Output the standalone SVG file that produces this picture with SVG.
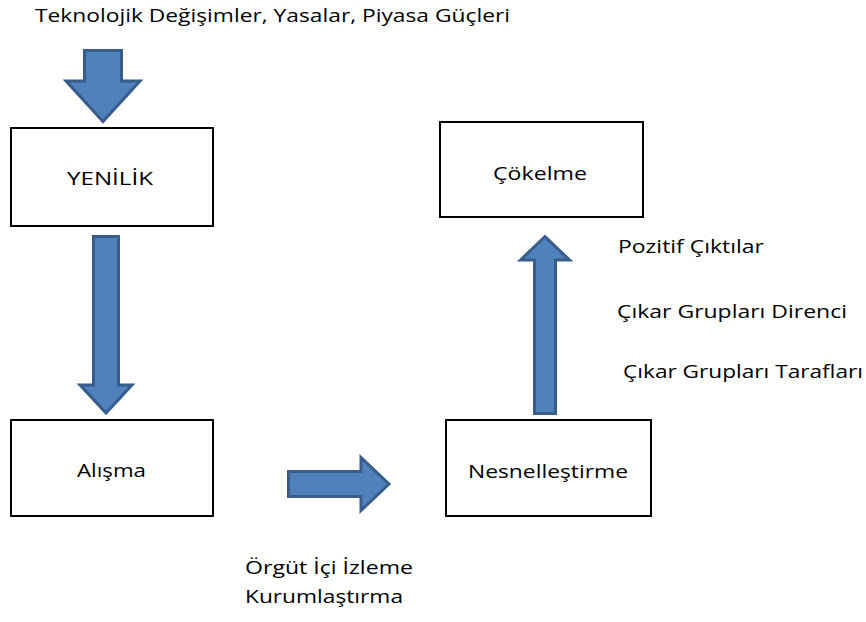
<svg xmlns="http://www.w3.org/2000/svg" width="866" height="622" viewBox="0 0 866 622">
<style>
.box{fill:#fff;stroke:#000;stroke-width:2}
.arr{fill:#4F81BD;stroke:#385D8A;stroke-width:3;stroke-linejoin:miter}
text{font-family:"Open Sans","Noto Sans","Liberation Sans",sans-serif;font-size:17.5px;font-weight:400;fill:#000}
.c{text-anchor:middle}
</style>
<rect width="866" height="622" fill="#fff"/>
<text id="title" x="35" y="22" textLength="475" lengthAdjust="spacingAndGlyphs">Teknolojik Değişimler, Yasalar, Piyasa Güçleri</text>
<g id="connectors">
<path class="arr" d="M84.5,50.5 H121.5 V81 H140 L103,121.5 L66,81 H84.5 Z"/>
<path class="arr" d="M93.5,236.5 H118.5 V385 H132 L106,413 L80,385 H93.5 Z"/>
<path class="arr" d="M288.5,471.5 H361 V457.5 L389,484 L361,510.5 V496.5 H288.5 Z"/>
<path class="arr" d="M534.5,413.5 V260 H520.5 L545,236.5 L569.5,260 H555.5 V413.5 Z"/>
</g>
<g id="yenilik"><rect class="box" x="11" y="128" width="202" height="98"/><text class="c" x="110" y="185" textLength="86" lengthAdjust="spacingAndGlyphs">YENİLİK</text></g>
<g id="cokelme"><rect class="box" x="440" y="122" width="203" height="95"/><text class="c" x="540" y="180" textLength="94" lengthAdjust="spacingAndGlyphs">Çökelme</text></g>
<g id="alisma"><rect class="box" x="11" y="420" width="202" height="96"/><text class="c" x="111.5" y="477" textLength="69" lengthAdjust="spacingAndGlyphs">Alışma</text></g>
<g id="nesnellestirme"><rect class="box" x="446" y="420" width="205" height="96"/><text class="c" x="548" y="478" textLength="160" lengthAdjust="spacingAndGlyphs">Nesnelleştirme</text></g>
<g id="labels">
<text x="618" y="253" textLength="146" lengthAdjust="spacingAndGlyphs">Pozitif Çıktılar</text>
<text x="617" y="318" textLength="230" lengthAdjust="spacingAndGlyphs">Çıkar Grupları Direnci</text>
<text x="623" y="378" textLength="240" lengthAdjust="spacingAndGlyphs">Çıkar Grupları Tarafları</text>
<text x="245" y="574" textLength="168" lengthAdjust="spacingAndGlyphs">Örgüt İçi İzleme</text>
<text x="245" y="603" textLength="158" lengthAdjust="spacingAndGlyphs">Kurumlaştırma</text>
</g>
</svg>
